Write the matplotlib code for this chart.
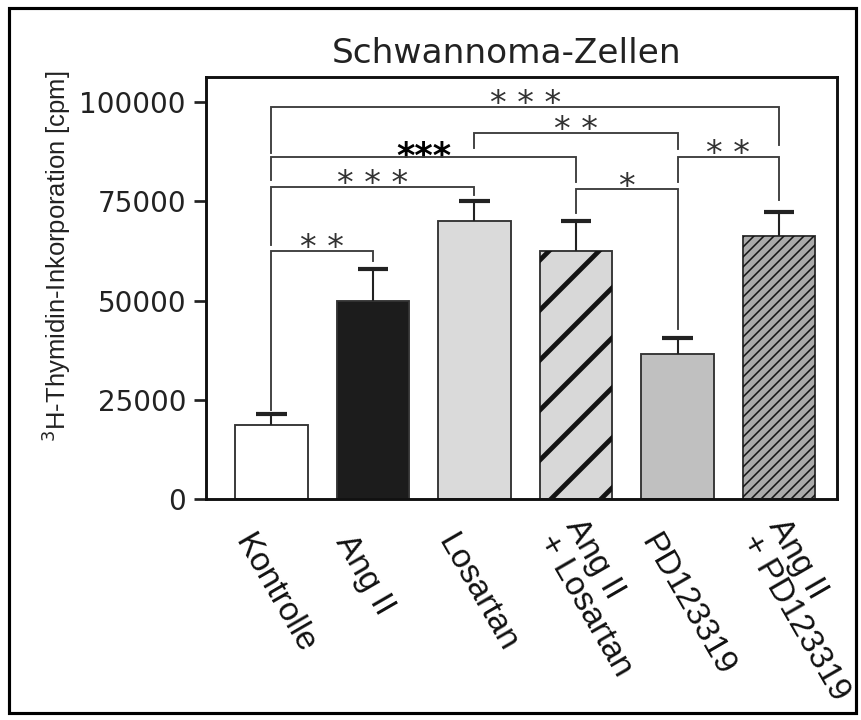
import matplotlib
matplotlib.use("Agg")
import numpy as np
import matplotlib.pyplot as plt
from matplotlib.patches import Rectangle

# values
groups = ["Kontrolle", "Ang II", "Losartan", "Ang II\n+ Losartan",
          "PD123319", "Ang II\n+ PD123319"]
means = [18600, 49900, 70100, 62500, 36500, 66300]
sems = [2800, 8000, 4900, 7500, 4100, 6000]
yticks = [0, 25000, 50000, 75000, 100000]

# significance brackets: bar pair, bracket height, leg ends, label
br_left = [0, 2, 4, 0, 0, 3, 0]
br_right = [5, 4, 5, 3, 2, 4, 1]
br_height = [98700, 92200, 86100, 86100, 78600, 78000, 62500]
br_leg_left = [87100, 88400, 79800, 80300, 64000, 72000, 22400]
br_leg_right = [89100, 88100, 75300, 79800, 76500, 42800, 59900]
br_text = ["***", "**", "**", "***", "***", "*", "**"]
br_bold = [False, False, False, True, False, False, False]

# bar styles
fills = ["white", "#1c1c1c", "#dadada", "#d8d8d8", "#c0c0c0", "#aaaaaa"]
hatches = [None, None, None, "/", None, "/////"]
hatch_widths = [0, 0, 0, 2.3, 0, 0.75]

fig = plt.figure(figsize=(861 / 150, 720 / 150), dpi=150)
ax = fig.add_axes([206 / 861, 1 - 499 / 720, 631 / 861, 422 / 720])

x = np.arange(len(groups))
ax.bar(x, means, width=0.71, color=fills, edgecolor="#333333", linewidth=0.9, zorder=2)
for i in range(len(groups)):
    if hatches[i] is None:
        continue
    hb = ax.bar(x[i], means[i], width=0.71, fill=False, hatch=hatches[i],
                edgecolor="#141414", linewidth=0, zorder=3)
    for p in hb:
        p.set_hatch_linewidth(hatch_widths[i])

# error bars (upper only)
tops = np.array(means) + np.array(sems)
ax.vlines(x, means, tops, color="#222222", lw=1.0, zorder=4)
ax.hlines(tops, x - 0.15, x + 0.15, color="#222222", lw=2.0, zorder=4)

# brackets
for k in range(len(br_text)):
    xl, xr = br_left[k], br_right[k]
    h = br_height[k]
    ax.plot([xl, xl, xr, xr], [br_leg_left[k], h, h, br_leg_right[k]],
            color="#3c3c3c", lw=0.9, zorder=4, solid_joinstyle="miter")
    if br_bold[k]:
        ax.annotate(br_text[k], xy=((xl + xr) / 2, h), xytext=(0, -4.5),
                    textcoords="offset points", ha="center", va="baseline",
                    fontsize=17, fontweight="bold", color="black")
    else:
        ax.annotate(" ".join(br_text[k]), xy=((xl + xr) / 2, h), xytext=(0, -3.5),
                    textcoords="offset points", ha="center", va="baseline",
                    fontsize=16, color="#333333")

ax.set_xlim(-0.645, 5.571)
ax.set_ylim(0, 106300)
ax.set_xticks([])
ax.set_yticks(yticks)
ax.set_yticklabels([str(v) for v in yticks], fontsize=13.4, color="#222222")
ax.tick_params(axis="y", length=5.8, width=1.3, pad=3.8, color="#222222")
for s in ax.spines.values():
    s.set_linewidth(1.4)
    s.set_color("#111111")

# rotated category labels
for i, g in enumerate(groups):
    ax.annotate(g, xy=(x[i], 0), xycoords=("data", "axes fraction"),
                xytext=(-21, -22), textcoords="offset points",
                rotation=-60, rotation_mode="anchor", ha="left", va="bottom",
                fontsize=16, family="Liberation Sans", linespacing=1.0,
                color="#111111")

fig.text(507 / 861, 1 - 63 / 720, "Schwannoma-Zellen", ha="center", va="baseline",
         fontsize=16.5, color="#222222")
fig.text(56 / 861, 1 - 256 / 720, r"$^{3}$H-Thymidin-Inkorporation [cpm]",
         rotation=90, ha="center", va="center", fontsize=12.3,
         family="Liberation Sans", color="#222222")

fig.add_artist(Rectangle((9 / 861, 1 - 713 / 720), 847 / 861, 705 / 720,
                         transform=fig.transFigure, fill=False, lw=1.5,
                         edgecolor="black"))

fig.savefig("out.png", dpi=150)
